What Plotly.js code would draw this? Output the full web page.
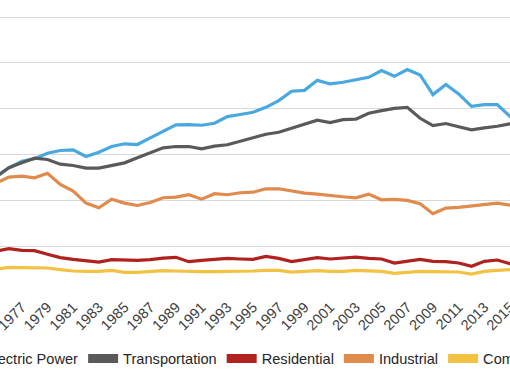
<!DOCTYPE html>
<html>
<head>
<meta charset="utf-8">
<script src="https://cdn.plot.ly/plotly-3.0.1.min.js"></script>
<style>
html,body{margin:0;padding:0;background:#fff;overflow:hidden;width:510px;height:382px;}
#wrap{position:absolute;left:0;top:0;width:510px;height:382px;overflow:hidden;}
#chart{position:absolute;left:-90px;top:0;width:700px;height:382px;}
</style>
</head>
<body>
<div id="wrap"><div id="chart"></div></div>
<script>
const years = [1975,1976,1977,1978,1979,1980,1981,1982,1983,1984,1985,1986,1987,1988,1989,1990,1991,1992,1993,1994,1995,1996,1997,1998,1999,2000,2001,2002,2003,2004,2005,2006,2007,2008,2009,2010,2011,2012,2013,2014,2015,2016];

const electricPower = [1253,1355,1427,1453,1514,1544,1551,1478,1525,1587,1617,1609,1682,1754,1824,1827,1819,1841,1914,1936,1961,2015,2088,2190,2200,2309,2270,2288,2313,2342,2415,2353,2426,2368,2154,2263,2161,2026,2045,2045,1914,1820];
const transportation = [1260,1355,1409,1460,1446,1395,1380,1351,1351,1377,1409,1464,1514,1573,1587,1587,1562,1591,1606,1645,1685,1721,1743,1787,1834,1874,1849,1881,1885,1950,1979,2004,2015,1895,1816,1838,1802,1769,1791,1808,1834,1860];
const industrial = [1190,1253,1264,1246,1296,1173,1100,970,919,1013,970,944,977,1028,1035,1061,1013,1072,1061,1083,1089,1126,1126,1100,1078,1068,1050,1039,1028,1068,1006,1010,999,963,854,915,923,941,959,970,948,940];
const residential = [445,473,454,451,411,375,356,345,327,353,349,345,353,370,378,331,345,356,367,360,356,389,367,331,353,375,360,367,381,367,360,316,338,356,334,331,316,280,334,349,309,295];
const commercial = [250,269,265,265,262,244,229,225,225,236,215,215,222,233,229,222,222,222,222,225,229,236,236,218,222,233,225,225,236,233,225,204,215,225,222,222,218,196,225,236,244,235];

const seriesNames = ['Electric Power','Transportation','Residential','Industrial','Commercial'];
const seriesData = [electricPower, transportation, residential, industrial, commercial];
const colors = ['#4aa8e0','#5a5a5a','#b0221e','#e08a4c','#f4c242'];

const tickYears = [1971,1973,1975,1977,1979,1981,1983,1985,1987,1989,1991,1993,1995,1997,1999,2001,2003,2005,2007,2009,2011,2013,2015,2017,2019,2021];

const traces = [];
seriesData.forEach((d,i)=>{
  traces.push({x: years, y: d, type:'scatter', mode:'lines', name: seriesNames[i],
    line:{color: colors[i], width:3.2}, showlegend:false, hoverinfo:'skip'});
});
seriesData.forEach((d,i)=>{
  traces.push({x:[null], y:[null], type:'scatter', mode:'lines', name: seriesNames[i],
    line:{color: colors[i], width:9}, showlegend:true});
});

const layout = {
  width:700, height:382,
  margin:{l:20, r:20, t:16, b:90, autoexpand:false},
  paper_bgcolor:'#fff', plot_bgcolor:'#fff',
  font:{family:'Liberation Sans, Arial, sans-serif', color:'#404040'},
  xaxis:{range:[1969.86, 2021.22], tickmode:'array', tickvals: tickYears, ticktext: tickYears.map(String),
    tickangle:-45, showgrid:false, zeroline:false, showline:false, ticks:'',
    ticklabeloverflow:'allow', ticklabelstandoff:3,
    tickfont:{size:14.5, color:'#404040'}, automargin:false},
  yaxis:{range:[0,3011], tickvals:[0,500,1000,1500,2000,2500,3000], showgrid:true, gridcolor:'#d9d9d9', gridwidth:1,
    zeroline:false, showline:false, showticklabels:false, ticks:'', automargin:false},
  legend:{orientation:'h', x:0.0223, xanchor:'left', y:-0.1827, yanchor:'top',
    font:{size:14.6, color:'#262626'}, bgcolor:'rgba(0,0,0,0)'},
  showlegend:true
};

Plotly.newPlot('chart', traces, layout, {staticPlot:true, displayModeBar:false});
</script>
</body>
</html>
